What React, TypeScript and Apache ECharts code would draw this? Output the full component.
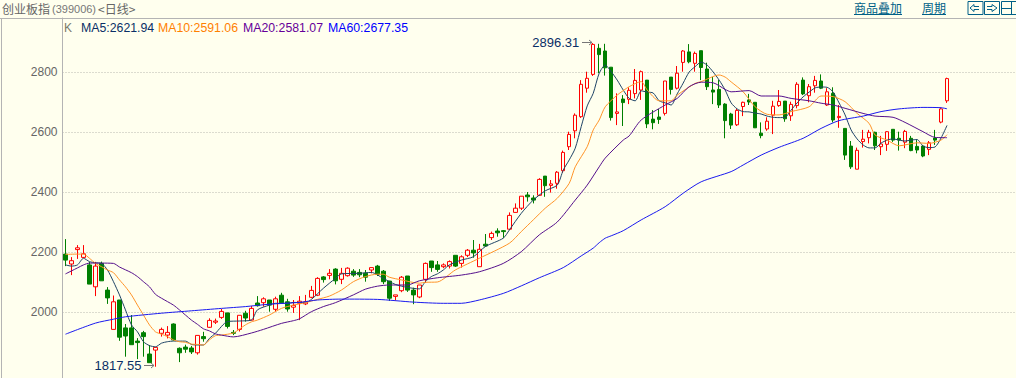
import React, { useEffect, useRef } from "react";
import * as echarts from "echarts";

const slotCount = 159;
const priceTicks = [2000, 2200, 2400, 2600, 2800];

// Prices of each daily candle
const opens = [2193,2160,2208,2182,2157,2084,2162,2073,1942,2040,1947,1947,1903,1931,1860,1873,1929,1923,1960,1879,1883,1880,1864,1918,1949,1966,1982,1997,1932,1942,1996,1973,2030,2031,2040,2009,2056,2034,2016,2029,2027,2049,2056,2117,2122,2143,2109,2121,2136,2132,2129,2140,2153,2136,2103,2052,2071,2120,2073,2050,2109,2170,2157,2151,2153,2189,2162,2189,2206,2151,2226,2248,2270,2271,2276,2332,2346,2390,2380,2389,2453,2422,2429,2471,2551,2604,2651,2746,2792,2879,2870,2816,2662,2710,2709,2728,2740,2773,2643,2650,2662,2783,2746,2832,2867,2829,2871,2810,2740,2742,2693,2660,2624,2685,2707,2699,2596,2610,2656,2688,2703,2654,2688,2773,2721,2754,2770,2690,2729,2648,2612,2553,2476,2568,2581,2599,2551,2559,2609,2579,2566,2579,2552,2553,2542,2580,2633,2704];
const closes = [2173,2171,2214,2194,2093,2153,2104,2047,2034,1916,1920,1891,1898,1918,1831,1882,1942,1932,1907,1864,1876,1867,1922,1911,1972,1970,2002,1952,1929,1989,1980,2012,2021,2044,2023,2044,2031,2010,2022,2036,2034,2072,2112,2108,2129,2104,2129,2146,2123,2124,2116,2148,2126,2101,2046,2057,2116,2073,2057,2090,2162,2148,2142,2157,2168,2153,2184,2206,2197,2209,2220,2262,2264,2268,2322,2346,2386,2384,2373,2442,2421,2427,2466,2532,2592,2656,2759,2779,2892,2858,2814,2648,2667,2698,2739,2772,2801,2627,2631,2642,2770,2742,2796,2870,2834,2862,2815,2751,2733,2690,2638,2623,2672,2699,2700,2614,2588,2636,2686,2702,2644,2692,2759,2727,2751,2772,2746,2734,2640,2652,2523,2484,2539,2576,2599,2554,2560,2601,2573,2573,2602,2538,2540,2520,2564,2573,2677,2778];
const lows = [2153,2123,2177,2180,2093,2053,2104,2027,1942,1904,1851,1891,1843,1851,1831,1817.55,1918,1912,1904,1833,1864,1860,1858,1901,1947,1960,1977,1945,1923,1935,1968,1973,2018,2018,2001,2001,2031,2001,1997,1973,2023,2046,2053,2098,2109,2092,2093,2118,2117,2116,2101,2129,2120,2093,2037,2038,2066,2067,2026,2046,2097,2134,2134,2146,2145,2150,2148,2183,2181,2151,2218,2240,2251,2247,2273,2331,2340,2368,2362,2387,2384,2398,2411,2464,2540,2579,2647,2731,2787,2796,2788,2638,2623,2620,2693,2712,2707,2613,2609,2627,2655,2725,2742,2801,2829,2801,2773,2740,2693,2680,2579,2610,2620,2653,2690,2614,2579,2604,2593,2684,2634,2637,2679,2723,2699,2731,2743,2687,2632,2614,2507,2477,2476,2548,2562,2540,2523,2537,2567,2538,2546,2536,2529,2516,2523,2557,2629,2697];
const highs = [2243,2183,2223,2223,2167,2167,2168,2083,2055,2040,1960,1990,1913,1937,1890,1882,1948,1953,1962,1882,1891,1887,1922,1934,1979,1978,2010,1997,1940,1989,2004,2020,2053,2049,2040,2051,2064,2044,2040,2053,2057,2087,2116,2120,2143,2146,2147,2149,2143,2143,2140,2148,2157,2140,2104,2057,2120,2120,2081,2090,2165,2170,2170,2162,2172,2189,2189,2210,2240,2227,2260,2268,2279,2273,2332,2362,2386,2400,2389,2446,2453,2440,2470,2538,2601,2662,2773,2801,2896.31,2894,2894,2816,2729,2723,2749,2810,2805,2773,2673,2677,2770,2783,2820,2873,2893,2868,2871,2831,2784,2773,2696,2664,2677,2701,2727,2699,2632,2649,2704,2740,2703,2701,2766,2782,2760,2787,2792,2746,2749,2690,2612,2570,2548,2607,2607,2601,2587,2603,2609,2601,2607,2587,2573,2557,2570,2607,2681,2781];

// Moving averages as [candle index, value] pairs
const ma5: [number, number][] = [[0,2157],[1,2153],[2,2157],[3,2179],[4,2168],[5,2164],[6,2162],[7,2140],[8,2101],[9,2057],[10,2007],[11,1957],[12,1934],[13,1901],[14,1888],[15,1884],[16,1896],[17,1901],[18,1903],[19,1903],[20,1903],[21,1892],[22,1890],[23,1890],[24,1912],[25,1929],[27,1968],[29,1970],[31,1973],[32,2007],[34,2023],[35,2029],[37,2029],[38,2032],[40,2031],[41,2042],[43,2079],[45,2112],[46,2127],[49,2129],[51,2132],[53,2112],[55,2092],[57,2082],[59,2077],[60,2101],[61,2118],[62,2127],[63,2140],[64,2157],[66,2173],[68,2184],[70,2218],[73,2246],[74,2273],[76,2329],[78,2373],[80,2404],[82,2423],[83,2473],[84,2507],[85,2546],[86,2618],[87,2687],[88,2729],[89,2796],[90,2823],[91,2801],[92,2773],[93,2740],[94,2712],[95,2704],[96,2737],[97,2733],[98,2730],[99,2704],[100,2697],[101,2690],[102,2727],[103,2763],[104,2800],[105,2818],[106,2833],[107,2823],[108,2800],[109,2773],[110,2740],[111,2697],[112,2677],[113,2668],[114,2667],[115,2663],[116,2660],[117,2653],[118,2649],[119,2648],[120,2649],[121,2673],[122,2697],[123,2717],[124,2733],[125,2747],[126,2750],[127,2749],[128,2733],[129,2697],[130,2657],[131,2607],[132,2577],[133,2557],[134,2547],[135,2547],[136,2563],[137,2573],[138,2577],[139,2573],[140,2570],[141,2573],[142,2575],[143,2553],[144,2548],[145,2550],[146,2580],[147,2621.94]];
const ma10: [number, number][] = [[0,2192],[2,2193],[3,2193],[4,2179],[5,2162],[6,2151],[7,2140],[8,2131],[9,2107],[10,2084],[11,2057],[12,2023],[13,1990],[14,1957],[15,1934],[16,1926],[17,1918],[18,1907],[19,1901],[20,1899],[21,1893],[22,1892],[23,1890],[24,1907],[25,1921],[26,1923],[28,1930],[29,1943],[30,1957],[31,1967],[32,1973],[34,1990],[36,2012],[38,2023],[40,2031],[42,2042],[44,2053],[46,2073],[48,2101],[50,2118],[52,2126],[53,2126],[54,2116],[56,2107],[59,2096],[60,2099],[62,2100],[65,2140],[69,2179],[74,2229],[76,2268],[78,2307],[80,2346],[82,2379],[84,2429],[85,2484],[87,2551],[88,2607],[89,2640],[90,2684],[92,2723],[94,2751],[96,2768],[97,2740],[99,2704],[101,2704],[102,2723],[105,2762],[106,2768],[109,2790],[110,2783],[111,2767],[113,2734],[115,2684],[117,2659],[119,2657],[121,2668],[124,2684],[126,2720],[128,2718],[130,2701],[132,2662],[134,2629],[135,2590],[137,2573],[139,2554],[142,2564],[144,2562],[146,2573],[147,2591.06]];
const ma20: [number, number][] = [[0,2127],[1,2137],[2,2147],[3,2157],[4,2163],[5,2163],[6,2163],[8,2162],[9,2150],[11,2131],[12,2118],[13,2101],[14,2084],[15,2059],[16,2046],[18,2023],[19,2007],[20,1990],[21,1973],[22,1959],[23,1944],[24,1937],[25,1927],[26,1923],[28,1917],[31,1930],[33,1942],[36,1962],[38,1971],[39,1977],[41,2001],[43,2018],[45,2031],[48,2057],[50,2076],[52,2086],[54,2090],[57,2090],[59,2104],[62,2114],[66,2123],[69,2134],[73,2162],[76,2201],[79,2257],[82,2300],[85,2373],[87,2423],[89,2484],[90,2513],[93,2573],[94,2587],[96,2640],[100,2690],[102,2712],[104,2751],[106,2766],[108,2764],[110,2742],[111,2734],[114,2738],[116,2720],[119,2720],[121,2712],[124,2704],[126,2696],[128,2690],[130,2679],[133,2662],[135,2653],[138,2649],[140,2632],[143,2601],[145,2582],[147,2581.07]];
const ma60: [number, number][] = [[0,1926],[5,1963],[8,1976],[10,1984],[16,1996],[21,2004],[26,2012],[30,2018],[34,2026],[39,2032],[42,2040],[46,2043],[52,2042],[58,2033],[63,2029],[66,2029],[69,2040],[73,2062],[76,2087],[79,2114],[83,2148],[86,2187],[88,2213],[89,2231],[90,2246],[91,2254],[93,2271],[96,2307],[100,2351],[103,2396],[106,2434],[111,2468],[113,2490],[116,2523],[119,2549],[123,2579],[126,2612],[129,2638],[133,2653],[136,2668],[139,2677],[143,2682],[146,2681],[147,2677.35]];

const lowIndex = 15;
const highIndex = 88;

const BG = "#ffffee";
const LINK = "#005f87";
const BORDER = "#b4b4b4";
const CJK = '"Noto Sans CJK SC", sans-serif';
const LATIN = '"Liberation Sans", Arial, sans-serif';

const iconButton = (x: number) => ({ type: "rect", shape: { x: x + 0.5, y: 1.5, width: 15, height: 13 }, style: { fill: "none", stroke: LINK, lineWidth: 1 }, silent: true });

export default function App() {
  const ref = useRef<HTMLDivElement>(null);
  useEffect(() => {
    document.body.style.margin = "0";
    document.body.style.background = BG;
    const chart = echarts.init(ref.current!, null, { renderer: "svg" });
    const candles = opens.map((o, i) => [o, closes[i], lows[i], highs[i]]);
    const line = (name: string, data: [number, number][], color: string) => ({
      name, type: "line", data, smooth: 0.25, showSymbol: false, symbol: "none", silent: true,
      lineStyle: { color, width: 1 }, z: 5,
    });
    chart.setOption({
      animation: false,
      backgroundColor: BG,
      grid: { left: 62.5, top: 18, width: 954, height: 360, containLabel: false },
      xAxis: {
        type: "category",
        data: Array.from({ length: slotCount }, (_, i) => String(i)),
        boundaryGap: true,
        axisLine: { show: false }, axisTick: { show: false }, axisLabel: { show: false }, splitLine: { show: false },
      },
      yAxis: {
        type: "value", min: 1780, max: 2980, scale: true,
        axisLine: { show: true, lineStyle: { color: BORDER, width: 1 } },
        axisTick: { show: false, customValues: priceTicks },
        axisLabel: { customValues: priceTicks, color: "#666666", fontSize: 12, fontFamily: LATIN, margin: 5, formatter: (v: number) => String(v) },
        splitLine: { show: true, lineStyle: { color: "#b8b8b0", type: [1, 2], width: 1 } },
      },
      series: [
        {
          name: "K", type: "candlestick", data: candles, barWidth: 4, silent: true, z: 2,
          itemStyle: { color: BG, color0: "#007f00", borderColor: "#ff0000", borderColor0: "#007f00", borderWidth: 1 },
          markPoint: {
            silent: true, symbol: "circle", symbolSize: 0,
            data: [
              { coord: [highIndex, highs[highIndex]], value: highs[highIndex], label: { position: "left", distance: 14, offset: [0, -1] } },
              { coord: [lowIndex, lows[lowIndex]], value: lows[lowIndex], label: { position: "left", distance: 14, offset: [0, -1] } },
            ],
            label: { show: true, color: "#0a2f66", fontFamily: LATIN, fontSize: 13, formatter: (p: any) => Number(p.value).toFixed(2) },
          },
        },
        line("MA5", ma5, "#1f4466"),
        line("MA10", ma10, "#ff9428"),
        line("MA20", ma20, "#55108c"),
        line("MA60", ma60, "#1a1aee"),
      ],
      graphic: [
        { type: "line", shape: { x1: 0, y1: 18.5, x2: 1016, y2: 18.5 }, style: { stroke: BORDER, lineWidth: 1 }, silent: true },
        { type: "line", shape: { x1: 1.5, y1: 18, x2: 1.5, y2: 378 }, style: { stroke: BORDER, lineWidth: 1 }, silent: true },
        { type: "text", x: 2, y: 2, style: { text: "创业板指", fill: "#666666", font: `12px ${CJK}` }, silent: true },
        { type: "text", x: 52, y: 3, style: { text: "(399006)", fill: "#777777", font: `11px ${LATIN}` }, silent: true },
        { type: "text", x: 98, y: 2, style: { text: "<日线>", fill: "#666666", font: `12px ${CJK}` }, silent: true },
        { type: "text", x: 64, y: 22, style: { text: "K", fill: "#7a7a6a", font: `12px ${LATIN}` }, silent: true },
        { type: "text", x: 81, y: 22, style: { text: "MA5:2621.94", fill: "#0a2f66", font: `12.3px ${LATIN}` }, silent: true },
        { type: "text", x: 158, y: 22, style: { text: "MA10:2591.06", fill: "#ff8000", font: `12.3px ${LATIN}` }, silent: true },
        { type: "text", x: 243, y: 22, style: { text: "MA20:2581.07", fill: "#660099", font: `12.3px ${LATIN}` }, silent: true },
        { type: "text", x: 328, y: 22, style: { text: "MA60:2677.35", fill: "#0000ff", font: `12.3px ${LATIN}` }, silent: true },
        { type: "text", x: 854, y: 1, style: { text: "商品叠加", fill: LINK, font: `12px ${CJK}` }, silent: true },
        { type: "line", shape: { x1: 854, y1: 14.5, x2: 902, y2: 14.5 }, style: { stroke: LINK, lineWidth: 1 }, silent: true },
        { type: "text", x: 922, y: 1, style: { text: "周期", fill: LINK, font: `12px ${CJK}` }, silent: true },
        { type: "line", shape: { x1: 922, y1: 14.5, x2: 946, y2: 14.5 }, style: { stroke: LINK, lineWidth: 1 }, silent: true },
        iconButton(967.5), iconButton(984), iconButton(1001),
        { type: "polyline", shape: { points: [[979, 6.5], [974, 6.5], [974, 4.5], [970, 8], [974, 11.5], [974, 9.5], [979, 9.5]] }, style: { stroke: LINK, fill: "none", lineWidth: 1 }, silent: true },
        { type: "polyline", shape: { points: [[987, 6.5], [992, 6.5], [992, 4.5], [997, 8], [992, 11.5], [992, 9.5], [987, 9.5]] }, style: { stroke: LINK, fill: "none", lineWidth: 1 }, silent: true },
        { type: "line", shape: { x1: 1002, y1: 8.5, x2: 1011, y2: 8.5 }, style: { stroke: LINK, lineWidth: 1 }, silent: true },
        { type: "line", shape: { x1: 1011.5, y1: 2, x2: 1011.5, y2: 14 }, style: { stroke: LINK, lineWidth: 1 }, silent: true },
        { type: "line", shape: { x1: 582, y1: 42.5, x2: 592, y2: 42.5 }, style: { stroke: "#777777", lineWidth: 1 }, silent: true },
        { type: "polyline", shape: { points: [[589, 40], [592, 42.5], [589, 45]] }, style: { stroke: "#777777", fill: "none", lineWidth: 1 }, silent: true },
        { type: "line", shape: { x1: 144, y1: 365.5, x2: 154, y2: 365.5 }, style: { stroke: "#777777", lineWidth: 1 }, silent: true },
        { type: "polyline", shape: { points: [[151, 363], [154, 365.5], [151, 368]] }, style: { stroke: "#777777", fill: "none", lineWidth: 1 }, silent: true },
      ],
    });
    return () => chart.dispose();
  }, []);
  return <div ref={ref} style={{ width: 1016, height: 378 }} />;
}
